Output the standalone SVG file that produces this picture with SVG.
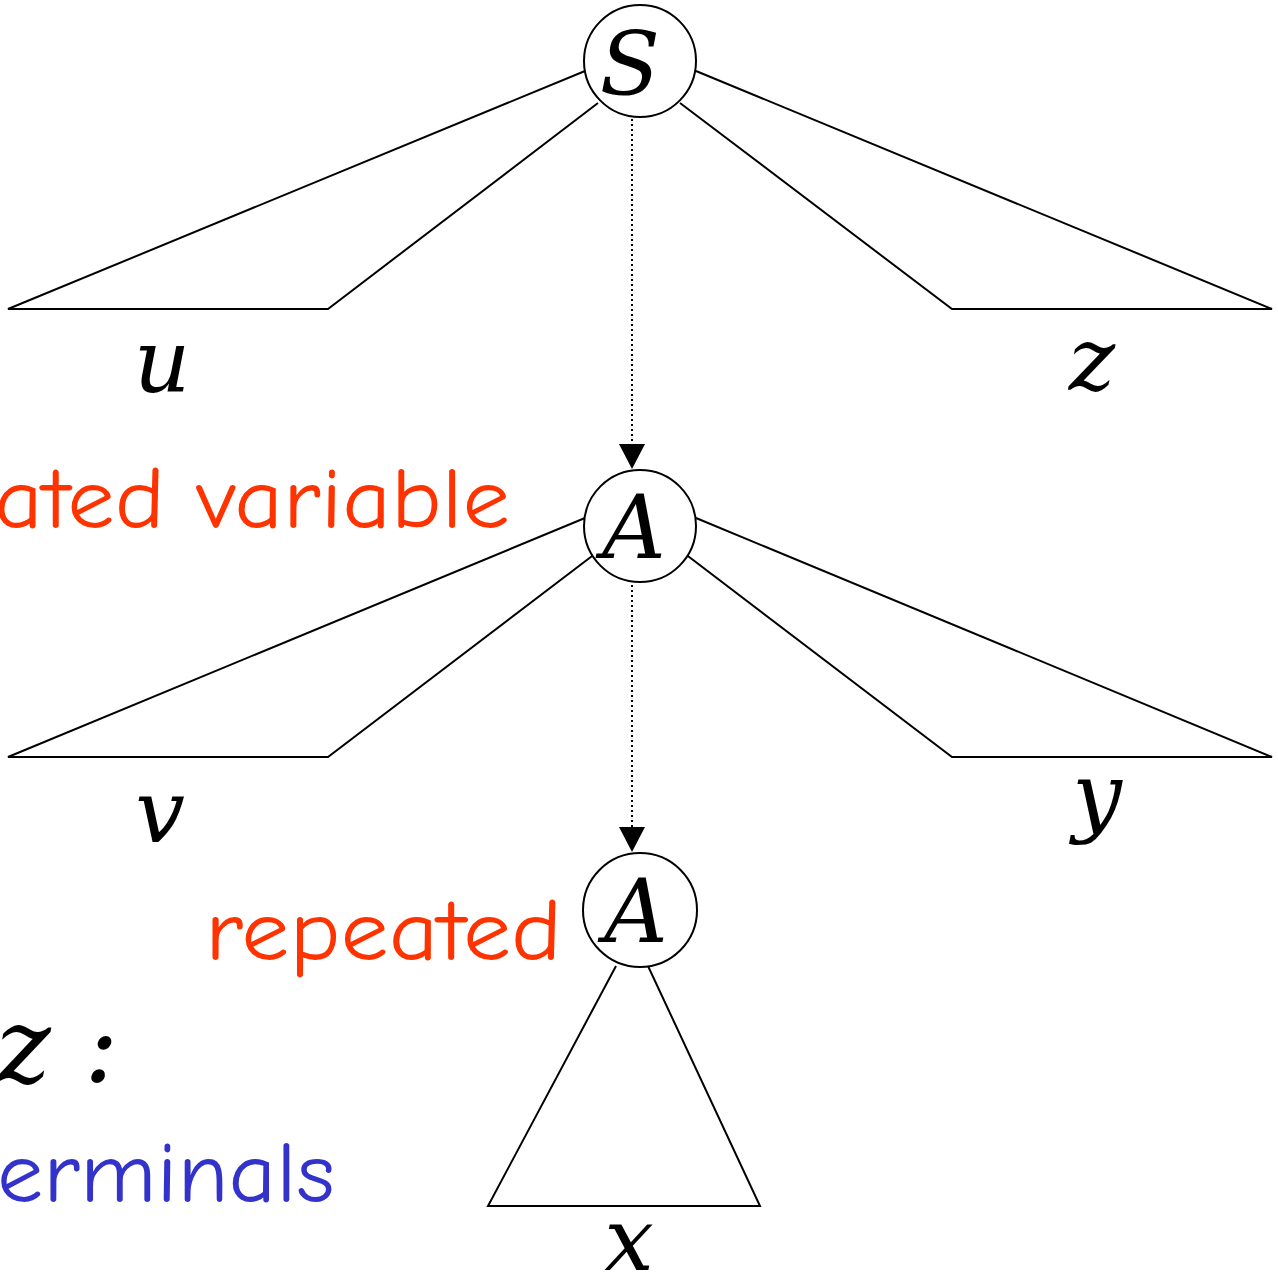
<svg xmlns="http://www.w3.org/2000/svg" width="1278" height="1282" viewBox="0 0 1278 1282">
<style>
.ln{fill:none;stroke:#000;stroke-width:2}
.dot{fill:none;stroke:#000;stroke-width:2;stroke-dasharray:2 3}
.nd{fill:#fff;stroke:#000;stroke-width:2}
.m{font-family:'DejaVu Serif','Liberation Serif',serif;font-style:italic;font-size:88px;fill:#000}
.red{font-family:'Comic Sans MS','Comic Neue','Noto Sans','Liberation Sans',sans-serif;font-size:86px;fill:#ff3300}
.blue{font-family:'Comic Sans MS','Comic Neue','Noto Sans','Liberation Sans',sans-serif;font-size:86px;fill:#3333cc}
</style>
<rect width="1278" height="1282" fill="#fff"/>
<g id="connectors">
<polyline class="ln" points="585,71 8,309 328,309 598,103"/>
<polyline class="ln" points="696,71 1272,309 952,309 680,103"/>
<polyline class="ln" points="585,518 8,757 328,757 600,550"/>
<polyline class="ln" points="696,518 1272,757 952,757 680,550"/>
<polyline class="ln" points="616,966 488,1206 760,1206 648,966"/>
<line class="dot" x1="632" y1="119" x2="632" y2="445"/>
<path d="M619,444 L645,444 L632,469 Z" fill="#000"/>
<line class="dot" x1="632" y1="585" x2="632" y2="828"/>
<path d="M619,827 L645,827 L632,852 Z" fill="#000"/>
</g>
<g id="node-S">
<circle class="nd" cx="640" cy="61" r="56"/>
<text class="m" x="630" y="95" text-anchor="middle">S</text>
</g>
<g id="node-A1">
<circle class="nd" cx="640" cy="526" r="56"/>
<text class="m" x="634" y="558" text-anchor="middle">A</text>
</g>
<g id="node-A2">
<circle class="nd" cx="640" cy="910" r="57"/>
<text class="m" x="636" y="942" text-anchor="middle">A</text>
</g>
<g id="labels">
<text class="m" x="162" y="392" text-anchor="middle">u</text>
<text class="m" x="1092" y="390" text-anchor="middle">z</text>
<text class="m" x="160" y="842" text-anchor="middle">v</text>
<text class="m" x="1097" y="825" text-anchor="middle">y</text>
<text class="m" x="629" y="1270" text-anchor="middle">x</text>
<text class="m" x="-4" y="1082" style="font-size:104px">z :</text>
<text class="red" x="-6" y="528" textLength="516" lengthAdjust="spacingAndGlyphs">ated variable</text>
<text class="red" x="205" y="960" textLength="357" lengthAdjust="spacingAndGlyphs">repeated</text>
<text class="blue" x="-3" y="1202" textLength="338" lengthAdjust="spacingAndGlyphs">erminals</text>
</g>
</svg>
